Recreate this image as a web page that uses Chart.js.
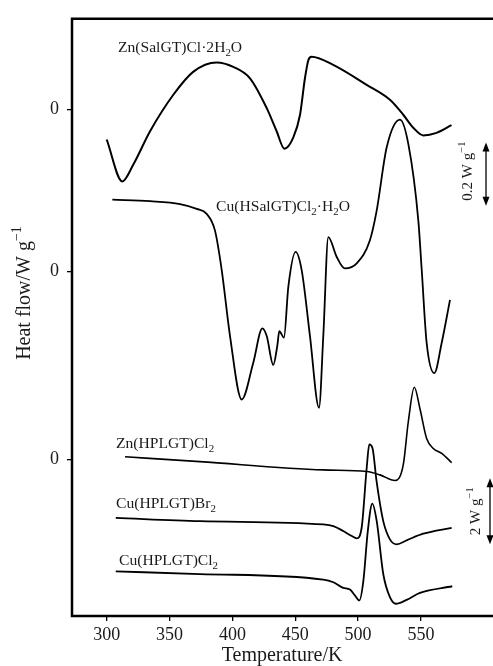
<!DOCTYPE html>
<html>
<head>
<meta charset="utf-8">
<script src="https://cdn.jsdelivr.net/npm/chart.js@4.4.1/dist/chart.umd.min.js"></script>
<style>
  html, body { margin: 0; padding: 0; background: #fff; }
  #wrap { width: 493px; height: 666px; }
</style>
</head>
<body>
<div id="wrap"><canvas id="dscChart" width="493" height="666"></canvas></div>
<script>
// temperature in K, heat flow in W/g measured from each curve's own zero
const tempZnSal = [300, 312.4, 321.3, 334.5, 353, 369, 387.5, 400.7, 414, 427.3, 435.2, 441.3, 448.4, 453.8, 457.7, 460.4, 463, 480.2, 506.8, 525.3, 535.9, 543.9, 551.8, 562.4, 574.3];
const flowZnSal = [-0.094, -0.226, -0.172, -0.068, 0.047, 0.12, 0.149, 0.135, 0.099, 0.005, -0.068, -0.123, -0.088, -0.016, 0.099, 0.156, 0.167, 0.141, 0.078, 0.031, -0.016, -0.057, -0.081, -0.073, -0.049];

const tempCuSal = [304.5, 334.5, 358.3, 371.6, 379.5, 386.1, 391.5, 398.1, 407.4, 416.6, 423.8, 427.3, 432.5, 435.7, 437.3, 441, 444.5, 450.3, 455.1, 461.7, 468.9, 472.3, 476.3, 482.9, 489.5, 498.9, 509.4, 514.8, 522.7, 533.3, 540, 547.9, 550.6, 554.5, 560.6, 566.5, 573.1];
const flowCuSal = [0.227, 0.222, 0.213, 0.198, 0.182, 0.13, 0.005, -0.203, -0.403, -0.287, -0.179, -0.203, -0.294, -0.234, -0.188, -0.208, -0.047, 0.0625, 0.005, -0.203, -0.429, -0.203, 0.109, 0.047, 0.01, 0.026, 0.099, 0.193, 0.391, 0.479, 0.401, 0.161, 0.005, -0.224, -0.32, -0.224, -0.089];

const tempZnPl = [314.6, 374.2, 472.3, 506.8, 517.4, 529.3, 535.9, 539.9, 544.7, 549.2, 554.5, 559.8, 566.5, 574.4];
const flowZnPl = [0.08, -0.07, -0.32, -0.37, -0.47, -0.64, -0.17, 1.13, 2.18, 1.53, 0.63, 0.33, 0.18, -0.1];

const tempCuBr = [307.2, 374.2, 472.3, 480.3, 488.2, 494.9, 498.9, 502.8, 506.8, 508.9, 511.5, 514.7, 520, 525.3, 530.7, 538.6, 551.8, 574.4];
const flowCuBr = [0, -0.1, -0.2, -0.25, -0.4, -0.55, -0.62, -0.3, 1.5, 2.22, 2.1, 1.1, -0.1, -0.65, -0.8, -0.68, -0.48, -0.3];

const tempCuCl = [307.2, 374.2, 472.3, 480.3, 488.2, 493.5, 497.5, 501, 504.2, 507.7, 511.3, 514.8, 520, 525.3, 530.1, 538.6, 549.2, 574.9];
const flowCuCl = [0, -0.08, -0.25, -0.33, -0.5, -0.55, -0.73, -0.88, -0.28, 1.22, 2.05, 1.52, -0.08, -0.78, -0.98, -0.86, -0.65, -0.45];

const tempTicks = [300, 350, 400, 450, 500, 550];

// stacking: offset of each curve's zero and stretch (upper pair is drawn 10x larger)
const curves = [
  { temps: tempZnSal, flows: flowZnSal, offset: 10.58, stretch: 9.6, width: 2,   label: [['Zn(SalGT)Cl·2H'], ['2', 'sub'], ['O']],                    at: [309, 12.44] },
  { temps: tempCuSal, flows: flowCuSal, offset: 5.68,  stretch: 9.6, width: 1.8, label: [['Cu(HSalGT)Cl'], ['2', 'sub'], ['·H'], ['2', 'sub'], ['O']], at: [387, 7.64] },
  { temps: tempZnPl,  flows: flowZnPl,  offset: 0,     stretch: 1,   width: 1.6, label: [['Zn(HPLGT)Cl'], ['2', 'sub']],                                at: [307.4, 0.47] },
  { temps: tempCuBr,  flows: flowCuBr,  offset: -1.77, stretch: 1,   width: 1.8, label: [['Cu(HPLGT)Br'], ['2', 'sub']],                                at: [307.4, -1.36] },
  { temps: tempCuCl,  flows: flowCuCl,  offset: -3.39, stretch: 1,   width: 1.8, label: [['Cu(HPLGT)Cl'], ['2', 'sub']],                                at: [309.8, -3.07] }
];
const zeroLevels = [curves[0].offset, curves[1].offset, curves[2].offset];

const SERIF = '"Liberation Serif", "Times New Roman", serif';
const INK = '#1a1a1a';

function drawRich(ctx, parts, x, y, size) {
  ctx.textBaseline = 'middle';
  ctx.textAlign = 'left';
  parts.forEach(p => {
    const small = p[1] === 'sub' || p[1] === 'sup';
    ctx.font = (small ? size * 0.7 : size) + 'px ' + SERIF;
    let dy = 0;
    if (p[1] === 'sub') dy = size * 0.32;
    if (p[1] === 'sup') dy = -size * 0.38;
    ctx.fillText(p[0], x, y + dy);
    x += ctx.measureText(p[0]).width;
  });
}
function richWidth(ctx, parts, size) {
  let w = 0;
  parts.forEach(p => {
    const small = p[1] === 'sub' || p[1] === 'sup';
    ctx.font = (small ? size * 0.7 : size) + 'px ' + SERIF;
    w += ctx.measureText(p[0]).width;
  });
  return w;
}

function arrowBar(ctx, x, y1, y2) {
  ctx.beginPath();
  ctx.moveTo(x, y1 + 6);
  ctx.lineTo(x, y2 - 6);
  ctx.lineWidth = 1.3;
  ctx.stroke();
  ctx.beginPath();
  ctx.moveTo(x, y1); ctx.lineTo(x - 3.5, y1 + 9); ctx.lineTo(x + 3.5, y1 + 9); ctx.closePath();
  ctx.fill();
  ctx.beginPath();
  ctx.moveTo(x, y2); ctx.lineTo(x - 3.5, y2 - 9); ctx.lineTo(x + 3.5, y2 - 9); ctx.closePath();
  ctx.fill();
}

const decor = {
  id: 'decor',
  afterDraw(chart) {
    const ctx = chart.ctx;
    const a = chart.chartArea;
    const xs = chart.scales.x, ys = chart.scales.y;
    ctx.save();
    ctx.strokeStyle = '#000';
    ctx.fillStyle = INK;

    // frame: left, top, bottom (right side runs off the picture)
    ctx.lineWidth = 2.5;
    ctx.beginPath();
    ctx.moveTo(a.right + 2, a.top);
    ctx.lineTo(a.left, a.top);
    ctx.lineTo(a.left, a.bottom);
    ctx.lineTo(a.right + 2, a.bottom);
    ctx.stroke();

    // curve names
    curves.forEach(c => {
      drawRich(ctx, c.label, xs.getPixelForValue(c.at[0]), ys.getPixelForValue(c.at[1]), 15.6);
    });

    // axis titles
    const xt = [['Temperature/K']];
    drawRich(ctx, xt, xs.getPixelForValue(439.5) - richWidth(ctx, xt, 20) / 2, 656, 20);

    const yt = [['Heat flow/W g'], ['−1', 'sup']];
    ctx.save();
    ctx.translate(25, 293);
    ctx.rotate(-Math.PI / 2);
    drawRich(ctx, yt, -richWidth(ctx, yt, 20) / 2, 0, 20);
    ctx.restore();

    // scale bars
    ctx.fillStyle = '#000';
    const upMid = ys.getPixelForValue(8.63);
    const upHalf = (ys.getPixelForValue(0) - ys.getPixelForValue(0.2 * 9.6)) / 2;
    arrowBar(ctx, 486, upMid - upHalf, upMid + upHalf);
    const loMid = ys.getPixelForValue(-1.57);
    const loHalf = (ys.getPixelForValue(0) - ys.getPixelForValue(2)) / 2;
    arrowBar(ctx, 490, loMid - loHalf, loMid + loHalf);

    ctx.fillStyle = INK;
    const t1 = [['0.2 W g'], ['−1', 'sup']];
    ctx.save();
    ctx.translate(468, upMid - 3);
    ctx.rotate(-Math.PI / 2);
    drawRich(ctx, t1, -richWidth(ctx, t1, 15) / 2, 0, 15);
    ctx.restore();
    const t2 = [['2 W g'], ['−1', 'sup']];
    ctx.save();
    ctx.translate(476, loMid);
    ctx.rotate(-Math.PI / 2);
    drawRich(ctx, t2, -richWidth(ctx, t2, 15) / 2, 0, 15);
    ctx.restore();

    ctx.restore();
  }
};

const datasets = curves.map(c => ({
  data: c.temps.map((t, i) => ({ x: t, y: c.offset + c.flows[i] * c.stretch })),
  borderColor: '#000',
  borderWidth: c.width,
  pointRadius: 0,
  fill: false,
  cubicInterpolationMode: 'monotone'
}));

new Chart(document.getElementById('dscChart'), {
  type: 'line',
  data: { datasets },
  options: {
    responsive: false,
    animation: false,
    layout: { padding: { top: 13, left: 0, right: 0, bottom: 0 } },
    plugins: { legend: { display: false }, tooltip: { enabled: false } },
    scales: {
      x: {
        type: 'linear',
        min: 272.4,
        max: 607.3,
        afterBuildTicks: axis => { axis.ticks = tempTicks.map(v => ({ value: v })); },
        afterFit: s => { s.height = 50; },
        border: { display: false },
        grid: { drawOnChartArea: false, tickLength: 5, color: '#000', lineWidth: 1.3 },
        ticks: { color: INK, font: { family: SERIF, size: 18 }, padding: 3, maxRotation: 0 }
      },
      y: {
        min: -4.74,
        max: 13.33,
        afterBuildTicks: axis => { axis.ticks = zeroLevels.map(v => ({ value: v })); },
        afterFit: s => { s.width = 72; },
        border: { display: false },
        grid: { drawOnChartArea: false, tickLength: 5, color: '#000', lineWidth: 1.3 },
        ticks: { color: INK, font: { family: SERIF, size: 18 }, padding: 8, callback: () => '0' }
      }
    }
  },
  plugins: [decor]
});
</script>
</body>
</html>
